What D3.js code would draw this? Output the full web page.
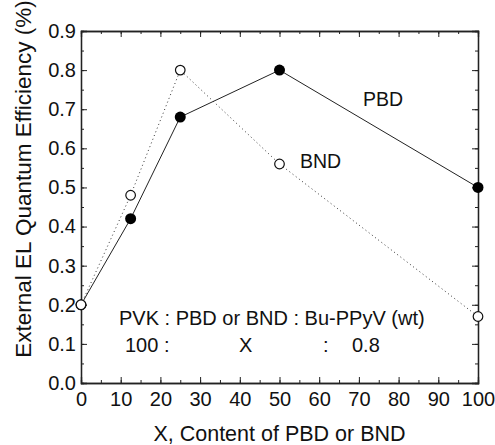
<!DOCTYPE html>
<html>
<head>
<meta charset="utf-8">
<script src="https://cdn.jsdelivr.net/npm/d3@7"></script>
<style>
  body { margin: 0; background: #fff; }
  svg text { font-family: "Liberation Sans", Arial, sans-serif; fill: #111; }
</style>
</head>
<body>
<div id="chart"></div>
<script>
// datos
var content = [0, 12.5, 25, 50, 100];
var pbd = [0.2, 0.42, 0.68, 0.8, 0.5];
var bnd = [0.2, 0.48, 0.8, 0.56, 0.17];
var xTicks = [0, 10, 20, 30, 40, 50, 60, 70, 80, 90, 100];
var yTicks = [0, 0.1, 0.2, 0.3, 0.4, 0.5, 0.6, 0.7, 0.8, 0.9];

var W = 495, H = 445,
	m = {t: 31, r: 17, b: 62, l: 81};

var svg = d3.select('#chart').append('svg')
	.attr('width', W)
	.attr('height', H);

var x = d3.scaleLinear().domain([0, 100]).range([m.l, W - m.r]);
var y = d3.scaleLinear().domain([0, 0.9]).range([H - m.b, m.t]);

var xMinor = d3.range(0, 101, 5),
	yMinor = d3.range(0, 0.901, 0.05);

// ejes: ticks hacia dentro en los cuatro lados
svg.append('g').attr('transform', 'translate(0,' + y(0) + ')')
	.call(d3.axisBottom(x).tickValues(xTicks).tickSize(-6).tickPadding(9).tickFormat(d3.format('d')));
svg.append('g').attr('transform', 'translate(0,' + y(0.9) + ')')
	.call(d3.axisTop(x).tickValues(xTicks).tickSize(-6).tickFormat(''));
svg.append('g').attr('transform', 'translate(' + x(0) + ',0)')
	.call(d3.axisLeft(y).tickValues(yTicks).tickSize(-6).tickPadding(5).tickFormat(d3.format('.1f')));
svg.append('g').attr('transform', 'translate(' + x(100) + ',0)')
	.call(d3.axisRight(y).tickValues(yTicks).tickSize(-6).tickFormat(''));

svg.append('g').attr('transform', 'translate(0,' + y(0) + ')')
	.call(d3.axisBottom(x).tickValues(xMinor).tickSize(-3).tickFormat(''));
svg.append('g').attr('transform', 'translate(0,' + y(0.9) + ')')
	.call(d3.axisTop(x).tickValues(xMinor).tickSize(-3).tickFormat(''));
svg.append('g').attr('transform', 'translate(' + x(0) + ',0)')
	.call(d3.axisLeft(y).tickValues(yMinor).tickSize(-3).tickFormat(''));
svg.append('g').attr('transform', 'translate(' + x(100) + ',0)')
	.call(d3.axisRight(y).tickValues(yMinor).tickSize(-3).tickFormat(''));

svg.selectAll('.domain').attr('stroke', '#222').attr('stroke-width', 1.3);
svg.selectAll('.tick line').attr('stroke', '#222').attr('stroke-width', 1);
svg.selectAll('.tick text').style('font-size', '20px').attr('fill', '#111');

// lineas
var line = function(vals) {
	return d3.line()
		.x(function(d, i) { return x(content[i]); })
		.y(function(d) { return y(d); })(vals);
};

svg.append('path')
	.attr('d', line(bnd))
	.attr('fill', 'none')
	.attr('stroke', '#333')
	.attr('stroke-width', 1)
	.attr('stroke-dasharray', '1,3');

svg.append('path')
	.attr('d', line(pbd))
	.attr('fill', 'none')
	.attr('stroke', '#222')
	.attr('stroke-width', 1);

svg.selectAll('.pbd').data(pbd)
	.enter().append('circle')
	.attr('class', 'pbd')
	.attr('cx', function(d, i) { return x(content[i]); })
	.attr('cy', function(d) { return y(d); })
	.attr('r', 5.5)
	.attr('fill', '#000');

// los circulos abiertos van encima (en x=0 se ve el abierto)
svg.selectAll('.bnd').data(bnd)
	.enter().append('circle')
	.attr('class', 'bnd')
	.attr('cx', function(d, i) { return x(content[i]); })
	.attr('cy', function(d) { return y(d); })
	.attr('r', 4.8)
	.attr('fill', '#fff')
	.attr('stroke', '#111')
	.attr('stroke-width', 1.2);

// textos
var label = function(txt, px, py, size, anchor) {
	return svg.append('text')
		.attr('x', px).attr('y', py)
		.attr('text-anchor', anchor || 'start')
		.style('font-size', size + 'px')
		.text(txt);
};

label('PBD', 363, 106, 19.5);
label('BND', 300, 168, 19.5);
label('PVK : PBD or BND : Bu-PPyV (wt)', 119, 325, 20);
label('100 :', 125, 352, 20);
label('X', 239, 352, 20);
label(':', 323, 352, 20);
label('0.8', 352, 352, 20);

label('X, Content of PBD or BND', (x(0) + x(100)) / 2, 441, 21.5, 'middle');

svg.append('text')
	.attr('transform', 'translate(31,179) rotate(-90)')
	.attr('text-anchor', 'middle')
	.style('font-size', '22.5px')
	.text('External EL Quantum Efficiency (%)');
</script>
</body>
</html>
